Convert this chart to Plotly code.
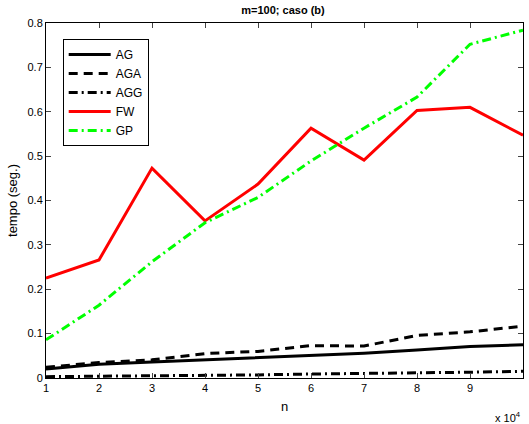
import plotly.graph_objects as go

n = [1, 2, 3, 4, 5, 6, 7, 8, 9, 10]
AG = [0.020, 0.031, 0.036, 0.041, 0.045, 0.051, 0.056, 0.063, 0.071, 0.075]
AGA = [0.024, 0.035, 0.041, 0.055, 0.060, 0.073, 0.072, 0.096, 0.104, 0.117]
AGG = [0.003, 0.004, 0.004, 0.006, 0.007, 0.009, 0.010, 0.012, 0.013, 0.015]
FW = [0.225, 0.266, 0.473, 0.354, 0.437, 0.563, 0.491, 0.603, 0.610, 0.547]
GP = [0.086, 0.164, 0.262, 0.350, 0.407, 0.489, 0.563, 0.633, 0.752, 0.784]

series = [
    ("AG", AG, "black", "solid"),
    ("AGA", AGA, "black", "9px,6px"),
    ("AGG", AGG, "black", "9px,4px,2px,4px"),
    ("FW", FW, "red", "solid"),
    ("GP", GP, "#00ff00", "9px,4px,2px,4px"),
]

fig = go.Figure()
for name, ys, col, dash in series:
    fig.add_trace(go.Scatter(x=n, y=ys, name=name, mode="lines",
                             line=dict(color=col, width=3, dash=dash)))

font = dict(family="Liberation Sans, Arial, sans-serif", size=11, color="black")
fig.update_layout(
    width=529, height=424,
    margin=dict(l=46, r=6, t=23, b=46),
    paper_bgcolor="white", plot_bgcolor="white",
    font=font,
    title=dict(text="<b>m=100; caso (b)</b>", x=0.535, xanchor="center",
               y=0.985, yanchor="top", font=dict(size=11)),
    showlegend=True,
    legend=dict(x=0.035, y=0.955, xanchor="left", yanchor="top",
                bordercolor="black", borderwidth=1, bgcolor="white",
                font=dict(size=12), tracegroupgap=0, itemwidth=42),
    xaxis=dict(range=[1, 10], tickvals=n, ticktext=[str(v) for v in n],
               ticks="inside", ticklen=5, showline=True, linecolor="black",
               linewidth=1, mirror="ticks", showgrid=False, zeroline=False,
               title=dict(text="n", standoff=8)),
    yaxis=dict(range=[0, 0.8], tickvals=[0, 0.1, 0.2, 0.3, 0.4, 0.5, 0.6, 0.7, 0.8],
               ticktext=["0", "0.1", "0.2", "0.3", "0.4", "0.5", "0.6", "0.7", "0.8"],
               ticks="inside", ticklen=5, showline=True, linecolor="black",
               linewidth=1, mirror="ticks", showgrid=False, zeroline=False,
               title=dict(text="tempo (seg.)", standoff=6)),
)
fig.add_annotation(text="x 10<sup>4</sup>", xref="paper", yref="paper",
                   x=1.0, y=-0.085, xanchor="right", yanchor="top",
                   showarrow=False, font=dict(size=11))
fig.write_html("out.html")
